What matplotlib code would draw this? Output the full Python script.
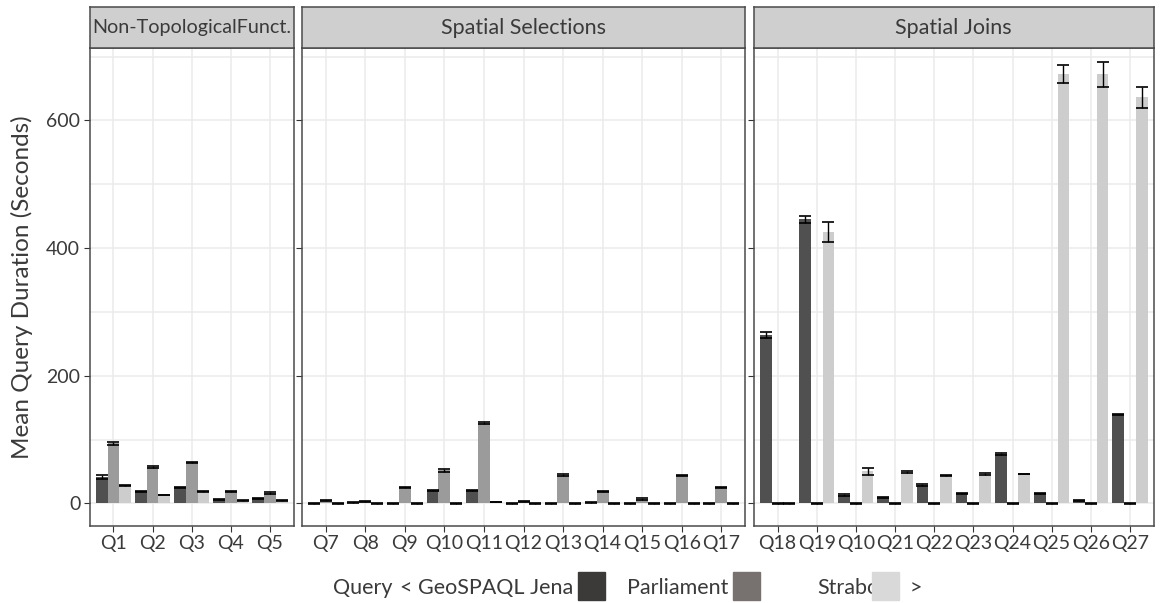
import matplotlib.pyplot as plt
from matplotlib.patches import Rectangle
import numpy as np

plt.rcParams['font.family'] = ['Lato', 'DejaVu Sans']

# panel 1: non-topological functions
q_nt = ["Q1", "Q2", "Q3", "Q4", "Q5"]
jena_nt = [41, 19, 25, 6, 8]
parl_nt = [94, 57, 64, 19, 16]
strab_nt = [28, 13, 19, 4, 5]
jena_nt_sd = [3, 1, 1, 1, 1]
parl_nt_sd = [2, 1, 1, 1, 1.5]
strab_nt_sd = [1, 0.5, 0.5, 0.5, 1]

# panel 2: spatial selections
q_sel = ["Q7", "Q8", "Q9", "Q10", "Q11", "Q12", "Q13", "Q14", "Q15", "Q16", "Q17"]
jena_sel = [0, 1, 0, 20, 20, 0, 0, 1, 0, 0, 0]
parl_sel = [4, 3, 25, 52, 126, 3, 44, 19, 7, 44, 25]
strab_sel = [0, 0, 0, 0, 2, 0, 0, 0, 0, 0, 0]
jena_sel_sd = [0.5, 0.5, 0.5, 0.5, 0.5, 0.5, 0.5, 0.5, 0.5, 0.5, 0.5]
parl_sel_sd = [0.5, 0.5, 0.5, 2.5, 1.5, 0.5, 1.5, 0.5, 1.5, 0.5, 0.5]
strab_sel_sd = [0.5, 0.5, 0.5, 0.5, 0.5, 0.5, 0.5, 0.5, 0.5, 0.5, 0.5]

# panel 3: spatial joins
q_join = ["Q18", "Q19", "Q10", "Q21", "Q22", "Q23", "Q24", "Q25", "Q26", "Q27"]
jena_join = [264, 445, 13, 9, 29, 16, 77, 16, 4, 139]
parl_join = [0, 0, 0, 0, 0, 0, 0, 0, 0, 0]
strab_join = [0, 425, 50, 49, 44, 46, 46, 673, 672, 636]
jena_join_sd = [5, 6, 1.5, 1, 1.5, 1, 1.5, 1, 1, 1]
parl_join_sd = [0.5, 0.5, 0.5, 0.5, 0.5, 0.5, 0.5, 0.5, 0.5, 0.5]
strab_join_sd = [0.5, 16, 6, 1, 0.5, 1, 0.5, 14, 20, 17]

panels = [
    ("Non-TopologicalFunct.", q_nt, [jena_nt, parl_nt, strab_nt], [jena_nt_sd, parl_nt_sd, strab_nt_sd]),
    ("Spatial Selections", q_sel, [jena_sel, parl_sel, strab_sel], [jena_sel_sd, parl_sel_sd, strab_sel_sd]),
    ("Spatial Joins", q_join, [jena_join, parl_join, strab_join], [jena_join_sd, parl_join_sd, strab_join_sd]),
]
bar_colors = ["#505050", "#9b9b9b", "#cdcdcd"]

W, H = 1161, 603
fig = plt.figure(figsize=(W / 100, H / 100), dpi=100)

# pixel extents of the three panels (left, right)
px = [(90, 293.5), (302, 745), (754, 1153.5)]
head_size = [14.2, 15.5, 15.5]
top, bottom, head_top = 48.3, 525.7, 7.3
txt = "#3a3a3a"

for i, (title, qs, series, sds) in enumerate(panels):
    l, r = px[i]
    ax = fig.add_axes([l / W, 1 - bottom / H, (r - l) / W, (bottom - top) / H])
    x = np.arange(len(qs))
    for k in range(3):
        ax.bar(x + (k - 1) * 0.3, series[k], width=0.3, color=bar_colors[k],
               yerr=sds[k], error_kw=dict(ecolor="black", elinewidth=1, capsize=4.2, capthick=1.2),
               zorder=3)
    ax.set_xlim(-0.6, len(qs) - 0.4)
    ax.set_ylim(-35, 713)
    ax.set_xticks(x)
    ax.set_xticklabels(qs, fontsize=14, color=txt)
    ax.set_yticks([0, 200, 400, 600])
    ax.set_yticks([100, 300, 500, 700], minor=True)
    ax.grid(True, which="both", color="#ebebeb", linewidth=1.1, zorder=0)
    ax.set_axisbelow(True)
    ax.tick_params(axis="both", which="major", length=4, color="#333333", labelcolor=txt, pad=3)
    ax.tick_params(axis="y", which="minor", length=0)
    if i == 0:
        ax.set_yticklabels(["0", "200", "400", "600"], fontsize=14)
        ax.set_ylabel("Mean Query Duration (Seconds)", fontsize=17.5, color=txt)
        ax.yaxis.set_label_coords((33 - l) / (r - l), 0.5)
    else:
        ax.set_yticklabels([])
    for s in ax.spines.values():
        s.set_color("#4a4a4a")
        s.set_linewidth(1.1)

    hx = fig.add_axes([l / W, 1 - top / H, (r - l) / W, (top - head_top) / H])
    hx.set_facecolor("#d0cfd0")
    hx.set_xticks([])
    hx.set_yticks([])
    for s in hx.spines.values():
        s.set_color("#4a4a4a")
        s.set_linewidth(1.1)
    hx.text(0.5, 0.5, title, ha="center", va="center", fontsize=head_size[i], color=txt,
            transform=hx.transAxes)

# legend drawn by hand
ly = 1 - 588 / H
fig.text(333 / W, ly, "Query", fontsize=15.5, color=txt, va="center")
fig.text(400 / W, ly, "< GeoSPAQL Jena", fontsize=15.5, color=txt, va="center")
fig.text(627 / W, ly, "Parliament", fontsize=15.5, color=txt, va="center")
fig.text(817 / W, ly, "Strabon", fontsize=15.5, color=txt, va="center")
fig.text(910 / W, ly, ">", fontsize=15.5, color=txt, va="center")
for x0, c in [(578, "#3c3a38"), (733, "#777270"), (872, "#d9d9d9")]:
    fig.patches.append(Rectangle((x0 / W, 1 - 600 / H), 27 / W, 28 / H, color=c,
                                 transform=fig.transFigure, figure=fig, zorder=5))

fig.savefig("out.png", dpi=100)
